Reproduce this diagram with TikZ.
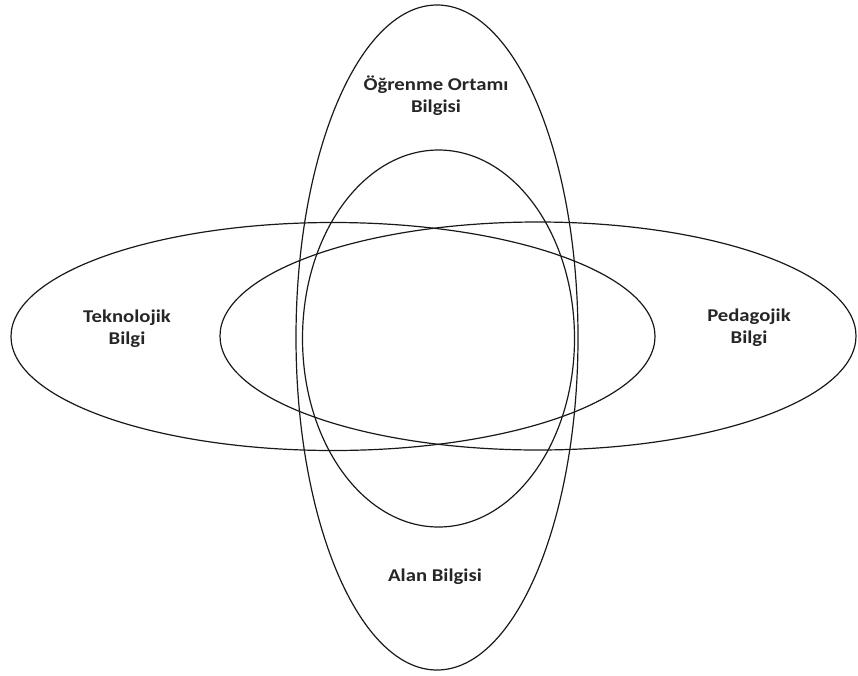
\documentclass[tikz,border=0pt]{standalone}
\usepackage{fontspec}
\setmainfont{Carlito}
\newfontfamily\lblfont[FakeStretch=1.15]{Carlito}
\begin{document}
\begin{tikzpicture}[x=1pt,y=-1pt,
    ring/.style={draw=black!90, line width=1.2pt},
    lbl/.style={font=\lblfont\bfseries\fontsize{18}{22}\selectfont, align=center, text=black!85}]
  \useasboundingbox (0,0) rectangle (858,675);

  % vertical ellipses
  \draw[ring] (437,337.5) ellipse [x radius=141pt, y radius=332.5pt];
  \draw[ring] (438.5,338.5) ellipse [x radius=136pt, y radius=188.5pt];

  % horizontal ellipses
  \draw[ring] (333,336.5) ellipse [x radius=322pt, y radius=114pt];
  \draw[ring] (538,336) ellipse [x radius=318pt, y radius=114pt];

  \node[lbl] (ortam) at (436,96) {Öğrenme Ortamı\\Bilgisi};
  \node[lbl] (tekno) at (127,329) {Teknolojik\\Bilgi};
  \node[lbl] (pedago) at (749,328) {Pedagojik\\Bilgi};
  \node[lbl] (alan) at (435,577) {Alan Bilgisi};

\end{tikzpicture}
\end{document}
